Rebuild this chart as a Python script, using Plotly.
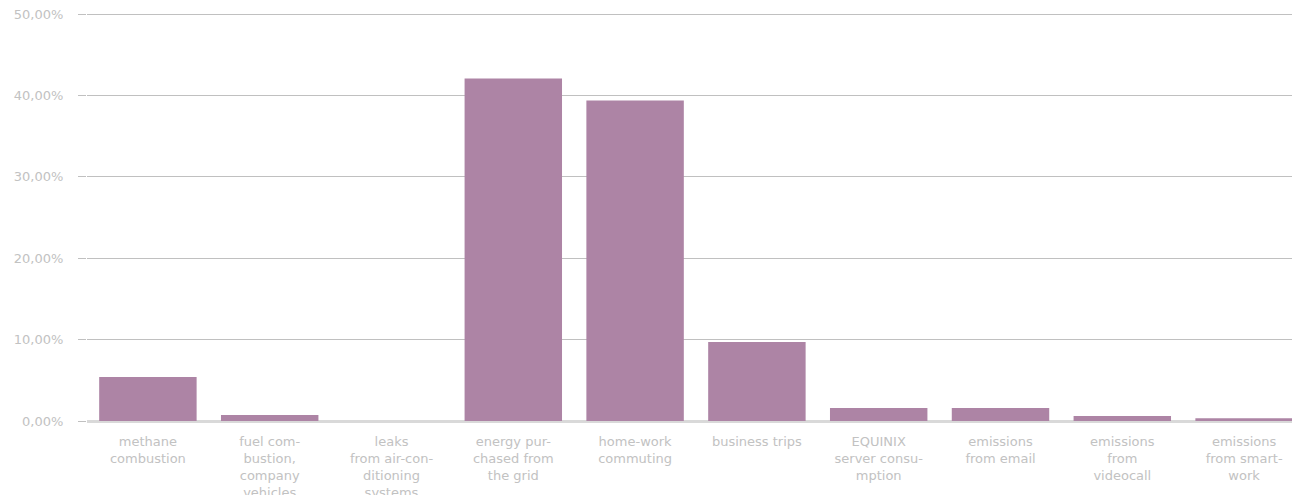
import plotly.graph_objects as go

categories = [
    "methane<br>combustion",
    "fuel com-<br>bustion,<br>company<br>vehicles",
    "leaks<br>from air-con-<br>ditioning<br>systems",
    "energy pur-<br>chased from<br>the grid",
    "home-work<br>commuting",
    "business trips",
    "EQUINIX<br>server consu-<br>mption",
    "emissions<br>from email",
    "emissions<br>from<br>videocall",
    "emissions<br>from smart-<br>work",
]
values = [5.4, 0.75, 0.0, 42.1, 39.4, 9.7, 1.6, 1.6, 0.6, 0.35]
y_ticks = [0, 10, 20, 30, 40, 50]
y_tick_labels = [f"{v:.2f}".replace(".", ",") + "%" for v in y_ticks]

fig = go.Figure(go.Bar(x=categories, y=values, marker=dict(color="#ad84a5", line=dict(width=0))))

font_family = "'DejaVu Sans', sans-serif"
text_color = "#c2c2c2"
fig.update_layout(
    width=1310, height=495,
    margin=dict(l=87, r=5, t=13, b=74),
    plot_bgcolor="white", paper_bgcolor="white",
    bargap=0.2,
    showlegend=False,
    font=dict(family=font_family, size=13, color=text_color),
)
fig.update_xaxes(
    tickfont=dict(family=font_family, size=13, color=text_color),
    showgrid=False, showline=False, ticks="",
    automargin=False, tickangle=0, ticklabelstandoff=11,
)
fig.update_yaxes(
    range=[0, 50.15], tickvals=y_ticks, ticktext=y_tick_labels,
    showgrid=True, gridcolor="#c0c0c0", gridwidth=1,
    zeroline=True, zerolinecolor="#d9d9d9", zerolinewidth=3,
    ticks="outside", ticklen=8, tickcolor="#c0c0c0", tickwidth=1,
    tickfont=dict(family=font_family, size=13, color=text_color),
    ticklabelstandoff=12, automargin=False,
)
fig.write_html(
    "out.html",
    config={"displayModeBar": False},
    post_script="document.body.style.margin='0';document.body.style.overflow='hidden';",
)
